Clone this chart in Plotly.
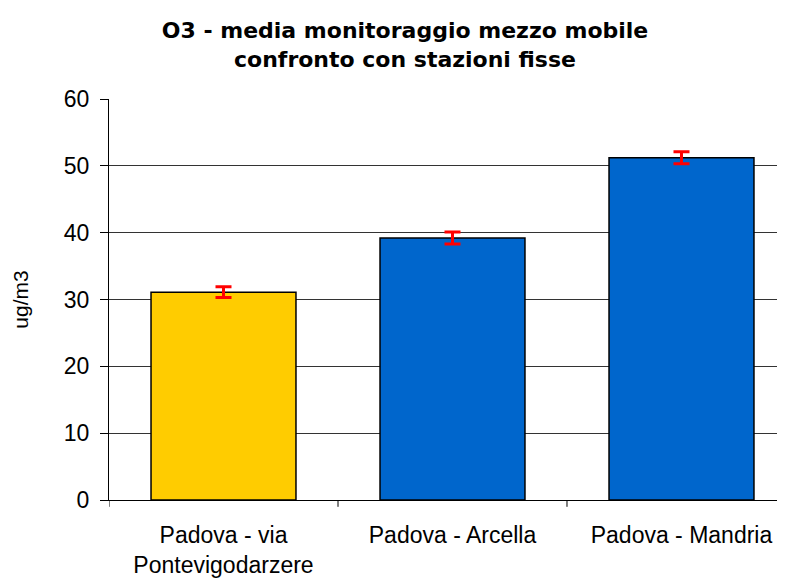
import plotly.graph_objects as go

categories = ["Padova - via<br>Pontevigodarzere", "Padova - Arcella", "Padova - Mandria"]
values = [31.1, 39.2, 51.2]
errors = [0.8, 0.9, 0.9]
bar_colors = ["#FFCC00", "#0066CC", "#0066CC"]
y_ticks = [0, 10, 20, 30, 40, 50, 60]

W, H = 777, 572  # page body has an 8px margin

fig = go.Figure()
fig.add_trace(go.Bar(
    x=list(range(len(categories))),
    y=values,
    marker=dict(color=bar_colors, line=dict(color="black", width=1.5)),
    error_y=dict(type="data", array=errors, visible=True, color="#FF0000", thickness=3, width=8),
    width=0.633,
    showlegend=False,
))

font_family = "Liberation Sans, Arial, sans-serif"
fig.update_layout(
    width=W, height=H,
    margin=dict(l=101, r=0, t=91, b=80),
    paper_bgcolor="white", plot_bgcolor="white",
    font=dict(family=font_family, color="black", size=23),
    title=dict(
        text="<b>O3 - media monitoraggio mezzo mobile<br>confronto con stazioni fisse</b>",
        x=397 / W, xanchor="center", y=1 - 30 / H, yanchor="top",
        font=dict(size=22, family="DejaVu Sans, sans-serif", color="black"),
    ),
    xaxis=dict(
        tickmode="array",
        tickvals=list(range(len(categories))),
        ticktext=categories,
        range=[-0.5, 2.452],
        showgrid=False,
        showline=True, linecolor="black", linewidth=1,
        ticks="", zeroline=False,
        tickfont=dict(size=23),
        ticklabelstandoff=14,
    ),
    yaxis=dict(
        range=[0, 60],
        tickvals=y_ticks,
        showgrid=True, gridcolor="#333333", gridwidth=1,
        showline=True, linecolor="black", linewidth=1,
        ticks="outside", ticklen=8, tickcolor="black",
        zeroline=False,
        tickfont=dict(size=23),
        ticklabelstandoff=6,
        title=dict(text="ug/m3", font=dict(size=21), standoff=29),
    ),
)

# category boundary ticks below x axis
for b in [-0.5, 0.5, 1.5]:
    fig.add_shape(type="line", xref="x", yref="paper", x0=b, x1=b, y0=0, y1=-0.017,
                  line=dict(color="black", width=1))

fig.write_html("out.html")
